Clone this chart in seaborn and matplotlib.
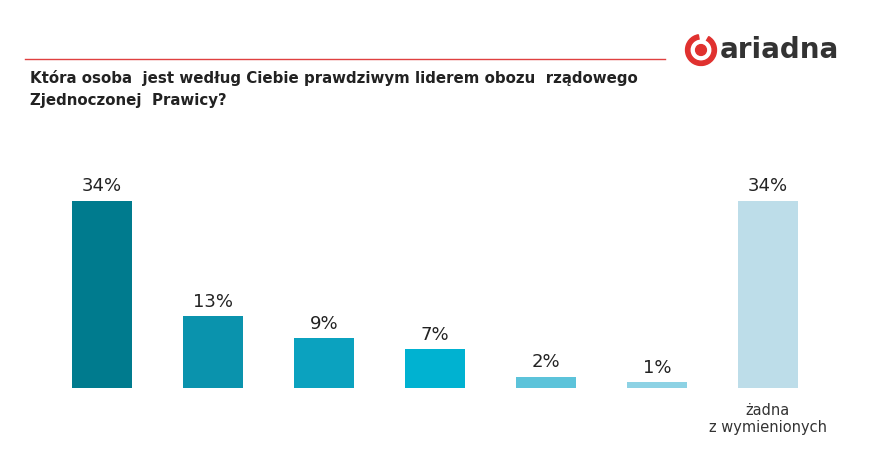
import matplotlib
matplotlib.use("Agg")
import matplotlib.pyplot as plt
import seaborn as sns
import pandas as pd
from matplotlib.patches import Circle, Wedge

categories = ["Jarosław Kaczyński", "Beata Szydło", "Paweł Kukiz", "Donald Tusk",
              "Waldemar Pawlak", "Mateusz Morawiecki", "żadna\nz wymienionych"]
values = [34, 13, 9, 7, 2, 1, 34]
tick_labels = ["", "", "", "", "", "", "żadna\nz wymienionych"]
colors = ["#007B8E", "#0A93AD", "#0BA2BF", "#00B2D1", "#5CC3DA", "#8DD2E4", "#BDDDE9"]

df = pd.DataFrame({"cat": categories, "val": values})

fig = plt.figure(figsize=(8.75, 4.64), dpi=100)
ax = fig.add_axes([0.053, 0.162, 0.888, 0.474])
sns.barplot(data=df, x="cat", y="val", hue="cat", palette=colors, legend=False,
            width=0.54, ax=ax, saturation=1)
ax.set_ylim(0, 40)
ax.set_xlim(-0.5, 6.5)
for i, v in enumerate(values):
    ax.text(i, v + 1.2, f"{v}%", ha="center", va="bottom", fontsize=13, color="#222222")
ax.set_xticks(range(len(categories)))
ax.set_xticklabels(tick_labels, fontsize=10.5, color="#333333")
ax.tick_params(length=0, pad=10)
ax.set_yticks([])
ax.set_xlabel("")
ax.set_ylabel("")
for s in ax.spines.values():
    s.set_visible(False)

fig.add_artist(plt.Line2D([25/875, 665/875], [1-60/464, 1-60/464], color="#E04040", lw=1))
fig.text(30/875, 1-78/464, "Która osoba  jest według Ciebie prawdziwym liderem obozu  rządowego",
         fontsize=10.8, fontweight="bold", va="center", color="#222222")
fig.text(30/875, 1-101/464, "Zjednoczonej  Prawicy?", fontsize=10.8, fontweight="bold",
         va="center", color="#222222")
# logo
fig.text(720/875, 1-50/464, "ariadna", fontsize=20, fontweight="semibold", va="center",
         color="#333333")
lax = fig.add_axes([684/875, 1-68/464, 34/875, 34/464])
lax.set_aspect("equal")
lax.add_patch(Wedge((0, 0), 1, 100, 420, width=0.28, color="#E0312F"))
lax.add_patch(Circle((0, 0), 0.35, color="#E0312F"))
lax.set_xlim(-1.1, 1.1); lax.set_ylim(-1.1, 1.1); lax.axis("off")

fig.savefig("out.png", dpi=100, facecolor="white")
